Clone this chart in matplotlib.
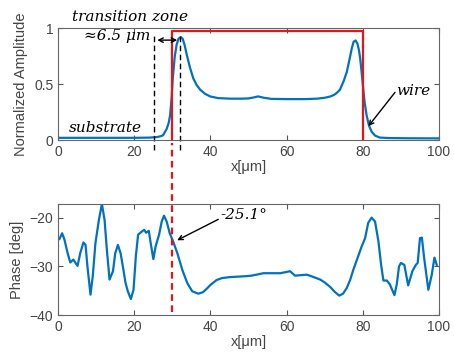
import numpy as np
import matplotlib
matplotlib.use('Agg')
import matplotlib.pyplot as plt

# amplitude profile (normalized)
x_amp = [0, 5, 10, 15, 20, 24, 26, 27, 27.6, 28.5, 29.0, 29.4, 29.8, 30.1, 30.6, 31.1, 31.6,
         32.2, 32.7, 33.2, 33.8, 34.6, 35.5, 36.4, 37.3, 38.5, 39.9, 42, 45.1, 48, 50, 51.5,
         52.5, 54, 56, 60, 65, 68, 70, 71.5, 72.5, 73.1, 74, 75, 75.8, 76.5, 77.1, 77.6, 78.1,
         78.6, 79.0, 79.3, 79.7, 80.1, 80.5, 81.0, 81.6, 82.3, 83.2, 84.5, 87, 92, 100]
amp = [0.02, 0.02, 0.02, 0.02, 0.02, 0.022, 0.027, 0.035, 0.045, 0.10, 0.15, 0.22, 0.38,
       0.55, 0.74, 0.85, 0.905, 0.92, 0.905, 0.85, 0.76, 0.65, 0.55, 0.49, 0.45, 0.415, 0.39,
       0.375, 0.37, 0.37, 0.372, 0.382, 0.39, 0.378, 0.368, 0.366, 0.366, 0.37, 0.378, 0.39,
       0.405, 0.42, 0.45, 0.53, 0.61, 0.72, 0.82, 0.88, 0.89, 0.86, 0.80, 0.73, 0.60, 0.46,
       0.33, 0.22, 0.13, 0.075, 0.04, 0.022, 0.018, 0.016, 0.015]

# phase profile (deg)
x_ph = [0, 0.35, 1.05, 1.66, 2.5, 3.2, 4.0, 4.5, 5.1, 5.8, 6.65, 7.2, 7.7, 8.5, 9.1, 9.8,
        10.7, 11.5, 12.2, 12.8, 13.5, 14.4, 15.0, 15.7, 16.4, 17.0, 17.7, 18.3, 19.1, 19.8,
        20.4, 21.0, 21.9, 22.6, 23.1, 23.8, 24.3, 25.0, 25.6, 26.5, 27.2, 27.8, 28.5, 29.3,
        30.2, 31.3, 32.6, 33.9, 35.2, 36.8, 38.0, 39.0, 40.0, 41.6, 43.0, 45.1, 49.5, 50.8,
        53.9, 58.3, 60.9, 62.2, 65.3, 66.1, 68.8, 70.0, 71.4, 72.6, 73.8, 74.8, 75.8, 76.7,
        77.5, 78.6, 79.7, 80.6, 81.4, 82.3, 83.2, 84.1, 84.8, 85.4, 86.3, 87.1, 88.3, 88.9,
        89.5, 90.0, 90.9, 91.9, 93.0, 93.9, 94.4, 95.0, 95.5, 96.1, 97.2, 98.1, 98.8, 99.4]
phase = [-24.5, -24.4, -23.2, -24.5, -27.3, -29.2, -28.6, -29.2, -29.9, -27.3, -25.1, -25.6,
         -30.0, -35.8, -32.0, -25.2, -20.5, -17.2, -20.5, -26.6, -32.7, -31.0, -27.3, -25.6,
         -27.3, -30.0, -33.4, -35.1, -36.7, -34.8, -28.0, -23.5, -22.9, -22.5, -23.1, -22.7,
         -25.2, -28.5, -25.9, -23.5, -20.8, -19.6, -20.8, -23.2, -24.9, -27.3, -30.7, -33.4,
         -35.1, -35.6, -35.3, -34.6, -33.8, -32.8, -32.4, -32.2, -32.0, -31.9, -31.4, -31.4,
         -31.0, -31.9, -31.7, -31.9, -32.7, -33.3, -34.2, -35.2, -36.0, -35.6, -34.4, -32.7,
         -30.7, -28.3, -25.9, -24.2, -21.1, -20.0, -20.8, -24.9, -29.7, -32.9, -32.9, -33.7,
         -35.9, -33.7, -30.0, -29.3, -29.7, -33.9, -31.0, -29.7, -29.3, -24.2, -24.1, -28.3,
         -34.8, -31.7, -28.2, -29.7]

wire_left, wire_right, wire_top = 30, 80, 0.975
zone_left, zone_right = 25.3, 32.0

blue = '#0072BD'
gray = '#444444'
plt.rcParams['font.family'] = ['Liberation Sans', 'DejaVu Sans']
serif = {'family': 'DejaVu Serif', 'style': 'italic', 'size': 11}

fig = plt.figure(figsize=(4.54, 3.61), dpi=100)
ax1 = fig.add_axes([0.128, 0.612, 0.839, 0.310])
ax2 = fig.add_axes([0.128, 0.127, 0.839, 0.308])

ax1.plot(x_amp, amp, color=blue, lw=1.6)
ax1.plot([wire_left, wire_left, wire_right, wire_right], [0, wire_top, wire_top, 0],
         color='#E8141B', lw=1.6)
for xv in (zone_left, zone_right):
    ax1.plot([xv, xv], [-0.09, 0.955], color='black', lw=1.0, ls=(0, (4, 2.5)), clip_on=False)
ax1.annotate('', xy=(zone_left, 0.893), xytext=(zone_right, 0.893),
             arrowprops=dict(arrowstyle='<->', color='black', lw=1.0, mutation_scale=8))
ax1.text(24.3, 0.93, '≈6.5 μm', ha='right', va='center', fontdict=serif)
ax1.text(18.9, 1.10, 'transition zone', ha='center', va='center', fontdict=serif,
         clip_on=False)
ax1.text(2.9, 0.107, 'substrate', ha='left', va='center', fontdict=serif)
ax1.text(88.7, 0.44, 'wire', ha='left', va='center', fontdict=serif)
ax1.annotate('', xy=(81.0, 0.104), xytext=(88.9, 0.446),
             arrowprops=dict(arrowstyle='->', color='black', lw=1.0, mutation_scale=8))
ax1.set_xlim(0, 100)
ax1.set_ylim(0, 1)
ax1.set_yticks([0, 0.5, 1])
ax1.set_yticklabels(['0', '0.5', '1'])
ax1.set_xlabel('x[μm]', color=gray, fontsize=10.5, labelpad=1)
ax1.set_ylabel('Normalized Amplitude', color=gray, fontsize=10.5, labelpad=4)

ax2.plot(x_ph, phase, color=blue, lw=1.6)
ax2.plot([wire_left, wire_left], [-39.3, -4.8], color='#E8141B', lw=1.6,
         ls=(0, (3, 2)), clip_on=False)
ax2.annotate('', xy=(30.6, -24.9), xytext=(42.7, -20.1),
             arrowprops=dict(arrowstyle='->', color='black', lw=1.0, mutation_scale=8))
ax2.text(42.7, -19.45, '-25.1°', ha='left', va='center', fontdict=serif)
ax2.set_xlim(0, 100)
ax2.set_ylim(-40, -17.2)
ax2.set_yticks([-40, -30, -20])
ax2.set_xlabel('x[μm]', color=gray, fontsize=10.5, labelpad=1)
ax2.set_ylabel('Phase [deg]', color=gray, fontsize=10.5, labelpad=4)

for ax in (ax1, ax2):
    ax.set_xticks([0, 20, 40, 60, 80, 100])
    ax.tick_params(direction='in', top=True, right=True, length=3.5, width=0.8,
                   colors='#555555', labelcolor=gray, labelsize=10)
    for sp in ax.spines.values():
        sp.set_color('#666666')
        sp.set_linewidth(0.8)

fig.savefig('out.png', dpi=100)
